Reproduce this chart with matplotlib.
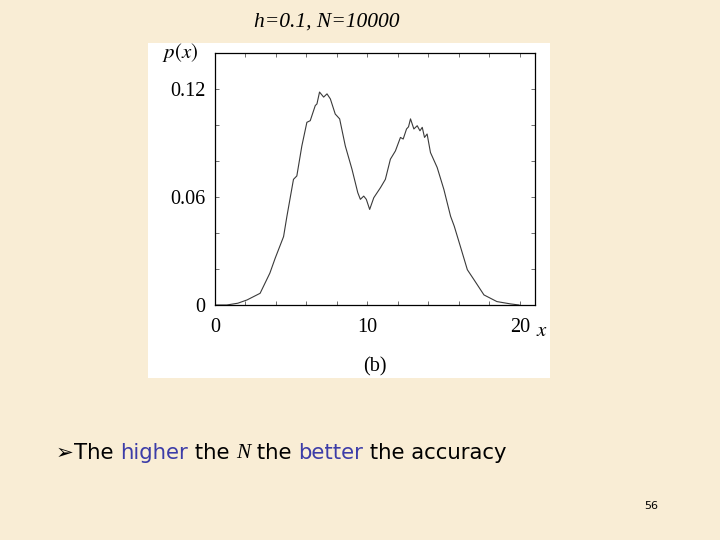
import matplotlib
matplotlib.use("Agg")
import matplotlib.pyplot as plt
from matplotlib.patches import Rectangle
from matplotlib.ticker import MultipleLocator

plt.rcParams["mathtext.fontset"] = "stix"

# density curve
x_vals = [0.0, 0.77, 1.5, 2.1, 2.96, 3.6, 3.95, 4.5, 4.72, 5.15, 5.37, 5.70, 6.03, 6.25,
          6.58, 6.69, 6.86, 7.13, 7.35, 7.57, 7.89, 8.18, 8.55, 8.99, 9.37, 9.54, 9.76,
          9.93, 10.15, 10.42, 10.86, 11.18, 11.51, 11.84, 12.17, 12.35, 12.57, 12.70,
          12.83, 13.05, 13.27, 13.45, 13.6, 13.75, 13.92, 14.14, 14.58, 15.02, 15.46,
          15.7, 16.1, 16.56, 17.0, 17.65, 18.5, 19.4, 19.95]
p_vals = [0.0, 0.0, 0.001, 0.0028, 0.0065, 0.0177, 0.026, 0.038, 0.0493, 0.0698, 0.0717,
          0.0884, 0.1015, 0.1024, 0.1108, 0.1117, 0.1183, 0.1155, 0.1173, 0.1145, 0.1061,
          0.1034, 0.0884, 0.0754, 0.0624, 0.0587, 0.0605, 0.0587, 0.0531, 0.0596, 0.0652,
          0.0698, 0.081, 0.0856, 0.0931, 0.0922, 0.0978, 0.0990, 0.1034, 0.0978, 0.0996,
          0.0968, 0.0987, 0.0931, 0.095, 0.0847, 0.0764, 0.0642, 0.0493, 0.0438, 0.0326,
          0.0196, 0.014, 0.0056, 0.0019, 0.0006, 0.0]
xticks = [0, 10, 20]
yticks = [0, 0.06, 0.12]
ytick_labels = ["0", "0.06", "0.12"]

W, H = 720, 540
fig = plt.figure(figsize=(7.2, 5.4), dpi=100)
fig.patch.set_facecolor("#F9EDD5")

def fx(px):
    return px / W

def fy(py):
    return 1 - py / H

# white panel behind the plot
fig.patches.append(Rectangle((fx(148), fy(378)), fx(550) - fx(148), fy(43) - fy(378),
                             transform=fig.transFigure, facecolor="white",
                             edgecolor="none", zorder=-5))

ax = fig.add_axes([fx(215), fy(305), fx(535) - fx(215), fy(53) - fy(305)])
ax.set_zorder(2)
ax.set_facecolor("white")
ax.plot(x_vals, p_vals, color="#3a3a3a", lw=0.8)
ax.set_xlim(0, 21)
ax.set_ylim(0, 0.14)

serif = "Liberation Serif"
ax.set_xticks(xticks)
ax.set_xticklabels([str(v) for v in xticks], fontfamily=serif, fontsize=14.5)
ax.set_yticks(yticks)
ax.set_yticklabels(ytick_labels, fontfamily=serif, fontsize=14.5)
ax.xaxis.set_minor_locator(MultipleLocator(2))
ax.yaxis.set_minor_locator(MultipleLocator(0.02))
ax.tick_params(which="both", direction="in", top=True, right=True, length=3,
               width=0.6, color="#555555")
ax.tick_params(axis="x", pad=9)
ax.tick_params(axis="y", pad=7)
for s in ax.spines.values():
    s.set_linewidth(0.9)

fig.text(fx(180), fy(52), "$p(x)$", fontsize=15, ha="center", va="center")
fig.text(fx(542), fy(330), "$x$", fontsize=15, ha="center", va="center")
fig.text(fx(375), fy(367), "(b)", fontsize=14.5, ha="center", va="center",
         family=serif)

fig.text(fx(327), fy(22), "h=0.1, N=10000", fontsize=15.5, ha="center", va="center",
         family=serif, style="italic")

# bullet line built from pieces
pieces = [("\u27a2", "black", "DejaVu Sans", "normal", "bold"),
          ("The ", "black", "DejaVu Sans", "normal", "normal"),
          ("higher", "#3C3CA8", "DejaVu Sans", "normal", "normal"),
          (" the ", "black", "DejaVu Sans", "normal", "normal"),
          ("N", "black", serif, "italic", "normal"),
          (" the ", "black", "DejaVu Sans", "normal", "normal"),
          ("better", "#3C3CA8", "DejaVu Sans", "normal", "normal"),
          (" the accuracy", "black", "DejaVu Sans", "normal", "normal")]
renderer = fig.canvas.get_renderer()
xpos = 56
for txt, col, fam, sty, wt in pieces:
    t = fig.text(fx(xpos), fy(453), txt, fontsize=15.3, color=col, family=fam,
                 style=sty, weight=wt, ha="left", va="center")
    bb = t.get_window_extent(renderer=renderer)
    xpos += bb.width

fig.text(fx(651), fy(506), "56", fontsize=8, ha="center", va="center",
         family="DejaVu Sans")

fig.savefig("out.png", dpi=100, facecolor=fig.get_facecolor())
